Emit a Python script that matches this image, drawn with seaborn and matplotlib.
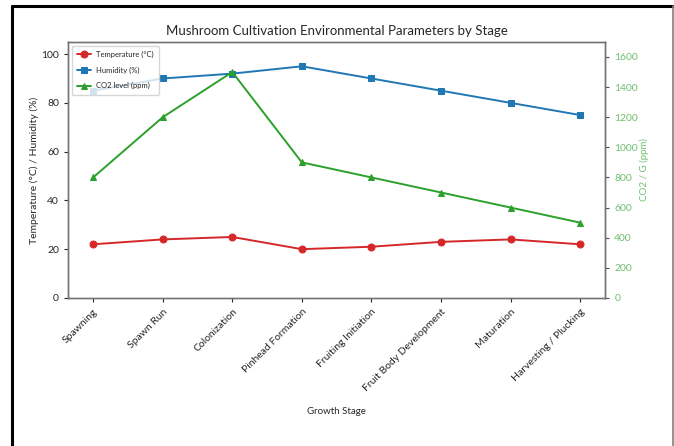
import matplotlib
matplotlib.use("Agg")
import matplotlib.pyplot as plt
import seaborn as sns
import pandas as pd
from matplotlib.lines import Line2D

# data
stages = ["Spawning", "Spawn Run", "Colonization", "Pinhead Formation",
          "Fruiting Initiation", "Fruit Body Development", "Maturation",
          "Harvesting / Plucking"]
temperature = [22, 24, 25, 20, 21, 23, 24, 22]
humidity = [85, 90, 92, 95, 90, 85, 80, 75]
co2 = [800, 1200, 1500, 900, 800, 700, 600, 500]

df = pd.DataFrame({"stage": stages, "temp": temperature,
                   "hum": humidity, "co2": co2})
df["pos"] = range(len(stages))

sns.set_style("ticks")
plt.rcParams["font.family"] = ["Lato", "DejaVu Sans"]

fig = plt.figure(figsize=(6.74, 4.46), dpi=100)
ax = fig.add_axes([0.101, 0.332, 0.797, 0.574])

sns.lineplot(data=df, x="pos", y="temp", ax=ax, color="tab:red", marker="o",
             markersize=5, markeredgecolor="tab:red", linewidth=1.4,
             label="Temperature (°C)", legend=False)
sns.lineplot(data=df, x="pos", y="hum", ax=ax, color="tab:blue", marker="s",
             markersize=5, markeredgecolor="tab:blue", linewidth=1.4,
             label="Humidity (%)", legend=False)

ax2 = ax.twinx()
sns.lineplot(data=df, x="pos", y="co2", ax=ax2, color="tab:green", marker="^",
             markersize=5, markeredgecolor="tab:green", linewidth=1.4,
             label="CO2 level (ppm)", legend=False)

ax.set_ylim(0, 105)
ax2.set_ylim(0, 1700)
ax.set_xlim(-0.36, len(stages) - 1 + 0.36)
ax.set_xticks(df["pos"])
ax.set_xticklabels(stages, rotation=45, ha="right", rotation_mode="anchor",
                   fontsize=7.5)
ax.tick_params(axis="y", labelsize=7.5, length=3)
ax.tick_params(axis="x", length=3)
ax2.tick_params(axis="y", labelsize=7.5, colors="#6fbf6f", length=3)
ax2.tick_params(axis="y", color="0.3")

ax.set_xlabel("Growth Stage", fontsize=7, labelpad=10)
ax.set_ylabel("Temperature (°C) / Humidity (%)", fontsize=7.5, labelpad=2)
ax2.set_ylabel("CO2 / G (ppm)", fontsize=7, color="#6fbf6f", labelpad=1)
ax.set_title("Mushroom Cultivation Environmental Parameters by Stage",
             fontsize=9.5, pad=5)

for a in (ax, ax2):
    for s in a.spines.values():
        s.set_color("0.45")
        s.set_linewidth(1.0)

h1, l1 = ax.get_legend_handles_labels()
h2, l2 = ax2.get_legend_handles_labels()
ax2.legend(h1 + h2, l1 + l2, loc="upper left", fontsize=5.5, frameon=True,
           borderpad=0.7, handlelength=1.8, labelspacing=1.1,
           handletextpad=0.6)

# picture frame around the screenshot
fig.add_artist(Line2D([0.018, 0.018], [0, 0.987], color="black", lw=2.2,
                      transform=fig.transFigure))
fig.add_artist(Line2D([0.018, 0.998], [0.987, 0.987], color="black", lw=2.2,
                      transform=fig.transFigure))
fig.add_artist(Line2D([0.998, 0.998], [0, 0.987], color="0.5", lw=1.2,
                      transform=fig.transFigure))

fig.savefig("out.png", dpi=100)
